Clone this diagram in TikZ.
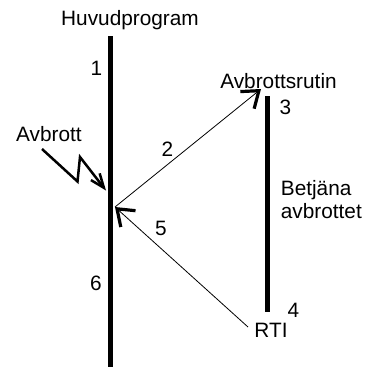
\documentclass[tikz,border=0pt]{standalone}
\usepackage{fontspec}
\setmainfont{Liberation Sans}
\usetikzlibrary{arrows.meta,positioning}

\tikzset{
  bar/.style={line width=5pt},
  flow/.style={line width=0.8pt, -{Straight Barb[length=15pt, width=22pt, line width=3.2pt]}},
  zap/.style={line width=2.5pt, -{Straight Barb[length=14pt, width=11pt, line width=2.5pt]}},
  lbl/.style={font=\fontsize{20.8}{23}\selectfont, inner sep=0pt, anchor=base},
}

\begin{document}
\begin{tikzpicture}[x=1pt, y=-1pt]
    \useasboundingbox (0,0) rectangle (372,367);

    % Main program bar
    \coordinate (M1) at (110.7,36);
    \coordinate (M2) at (110.7,367);
    \draw[bar] (M1) -- (M2);
    \node[lbl] (huvud) at (130,25) {Huvudprogram};
    \node[lbl] (n1) at (96.5,75) {1};
    \node[lbl] (n6) at (96,290) {6};

    % Interrupt routine bar
    \coordinate (R1) at (267,96);
    \coordinate (R2) at (267,312);
    \draw[bar] (R1) -- (R2);
    \node[lbl] (rutin) at (278.5,88) {Avbrottsrutin};
    \node[lbl] (n3) at (285.5,114) {3};
    \node[lbl] (n4) at (293.5,317) {4};
    \node[lbl] (rti) at (271,337) {RTI};
    \node[lbl, anchor=north west, align=left] (serve) at (280.7,180.3) {Betjäna\\avbrottet};

    % Interrupt request
    \node[lbl] (avbrott) at (49,141.5) {Avbrott};
    \coordinate (Z0) at (42,149);
    \coordinate (Z1) at (77.5,181.5);
    \coordinate (Z2) at (80,157);
    \coordinate (Z3) at (106,190.5);
    \draw[zap] (Z0) -- (Z1) -- (Z2) -- (Z3);

    % Jump to routine and return
    \coordinate (P) at (115,207);
    \coordinate (Rin) at (261,89);
    \coordinate (Rout) at (248,327);
    \draw[flow] (P) -- (Rin);
    \node[lbl] (n2) at (167.5,156) {2};
    \draw[flow] (Rout) -- (P);
    \node[lbl] (n5) at (161,235) {5};
\end{tikzpicture}
\end{document}
